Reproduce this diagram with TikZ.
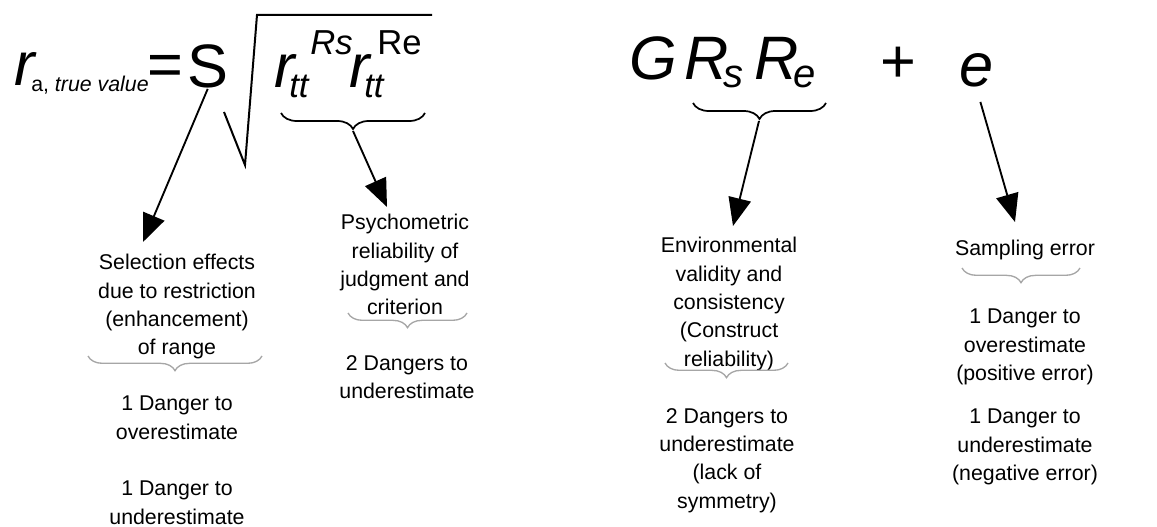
\documentclass[tikz,border=0pt]{standalone}
\usepackage{fontspec}
\setmainfont{Liberation Sans}
\usetikzlibrary{arrows.meta, positioning, decorations.pathreplacing}

\begin{document}
\begin{tikzpicture} [x=0.75pt, y=-0.75pt,
		% define styles
		bigsymbolstyle/.style={
			% Font
			font=\fontsize{46}{46}\selectfont,
			% Placement
			inner sep=0pt,
			anchor=base west
		},
		bigitalicstyle/.style={
			bigsymbolstyle,
			font=\fontsize{46}{46}\selectfont\itshape
		},
		indexstyle/.style={
			% Font
			font=\fontsize{26}{26}\selectfont\itshape,
			% Placement
			inner sep=0pt,
			anchor=base west
		},
		labelstyle/.style={
			% Font
			font=\fontsize{16}{21.3}\selectfont,
			align=center,
			% Placement
			inner sep=0pt,
			anchor=north
		},
		formulabrace/.style={
			decorate,
			decoration={brace, amplitude=12pt},
			line width=1.3pt,
			black
		},
		labelbrace/.style={
			decorate,
			decoration={brace, amplitude=11pt},
			line width=1pt,
			gray!70
		},
		arrow/.style={
			-{Triangle[length=21pt, width=17pt]},
			% Thickness
			line width=1.4pt,
			% Color
			black
		}]
		% end of style definition

		\useasboundingbox (0,0) rectangle (1157,527);

		% draw the formula
		\node (iRa) [bigitalicstyle] at (14,86) {r};
		\node (iRaSub) [indexstyle, font=\fontsize{16}{16}\selectfont] at (31,92) {a, \textit{true value}};
		\node (iEquals) [bigsymbolstyle] at (147,86) {=};
		\node (iS) [bigsymbolstyle] at (187,88) {S};

		\node (iRtt1) [bigitalicstyle] at (274,88) {r};
		\node (iTt1) [indexstyle] at (289,98) {tt};
		\node (iRs1) [indexstyle] at (310,55) {Rs};
		\node (iRtt2) [bigitalicstyle] at (349,88) {r};
		\node (iTt2) [indexstyle] at (364,98) {tt};
		\node (iRe2) [indexstyle, font=\fontsize{26}{26}\selectfont] at (377,55) {Re};

		\node (iG) [bigitalicstyle] at (629,80) {G};
		\node (iRs) [bigitalicstyle] at (684,80) {R};
		\node (iRsSub) [indexstyle, font=\fontsize{30}{30}\selectfont\itshape] at (723,88) {s};
		\node (iRe) [bigitalicstyle] at (754,80) {R};
		\node (iReSub) [indexstyle, font=\fontsize{30}{30}\selectfont\itshape] at (793,88) {e};
		\node (iPlus) [bigsymbolstyle, anchor=center] at (898,65) {+};
		\node (iE) [bigitalicstyle] at (959,87) {e};

		% square root
		\draw [line width=1.5pt, line join=miter] (224,112) -- (245,165) -- (257,15) -- (432,15);

		% formula braces
		\draw [formulabrace] (425,113) -- (281,113);
		\coordinate (tBraceRtt) at (353,131);
		\draw [formulabrace] (826,103) -- (693,103);
		\coordinate (tBraceRsRe) at (759,121);

		% draw labels
		\node (iSelection) [labelstyle] at (177,254) {Selection effects\\due to restriction\\(enhancement)\\of range};
		\node (iSelectionDanger) [labelstyle] at (177,396) {1 Danger to\\overestimate\\[21pt]1 Danger to\\underestimate};

		\node (iPsychometric) [labelstyle] at (405,214) {Psychometric\\reliability of\\judgment and\\criterion};
		\node (iPsychometricDanger) [labelstyle] at (407,355) {2 Dangers to\\underestimate};

		\node (iEnvironmental) [labelstyle] at (729,237) {Environmental\\validity and\\consistency\\(Construct\\reliability)};
		\node (iEnvironmentalDanger) [labelstyle] at (727,408) {2 Dangers to\\underestimate\\(lack of\\symmetry)};

		\node (iSampling) [labelstyle] at (1025,240) {Sampling error};
		\node (iSamplingDanger) [labelstyle] at (1025,309) {1 Danger to\\overestimate\\(positive error)\\[11pt]1 Danger to\\underestimate\\(negative error)};

		% label braces
		\draw [labelbrace] (262,356) -- (88,356);
		\draw [labelbrace] (467,313) -- (348,313);
		\draw [labelbrace] (788,363) -- (665,363);
		\draw [labelbrace] (1080,268) -- (962,268);

		% connect nodes
		\coordinate (aSelection) at (143,242);
		\coordinate (aPsychometric) at (387,207);
		\coordinate (aEnvironmental) at (733,226);
		\coordinate (aSampling) at (1015,222);

		\draw [arrow] (iS.south) -- (aSelection);
		\draw [arrow] (tBraceRtt) -- (aPsychometric);
		\draw [arrow] (tBraceRsRe) -- (aEnvironmental);
		\draw [arrow, shorten <=11pt] (iE.south) -- (aSampling);
	\end{tikzpicture}
\end{document}
